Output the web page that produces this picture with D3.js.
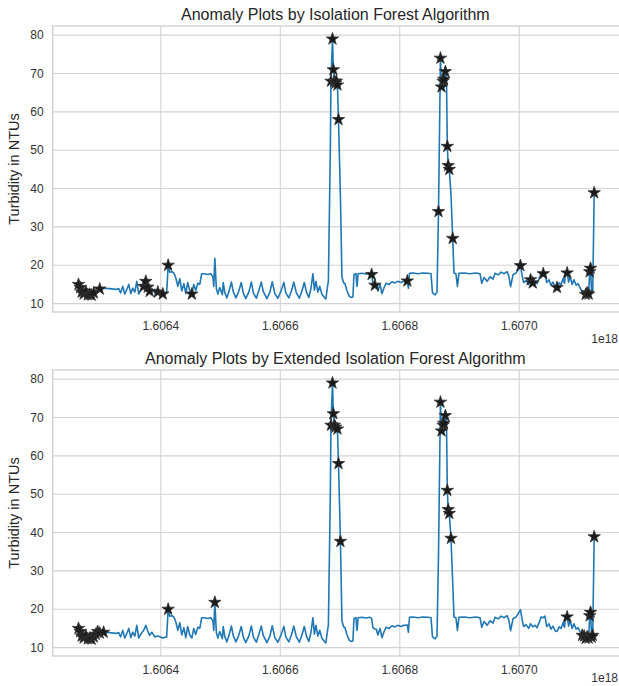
<!DOCTYPE html>
<html>
<head>
<meta charset="utf-8">
<script src="https://cdn.jsdelivr.net/npm/d3@7"></script>
<style>
  body { margin: 0; background: #fff; }
  svg { display: block; font-family: "Liberation Sans", Arial, sans-serif; }
</style>
</head>
<body>
<div id="chart"></div>
<script>
// readings: hours since first sample, turbidity in NTU
var hours = [0, 0.8, 1.5, 2.4, 3.4, 4.3, 5.2, 6.1, 7.1, 8.0, 8.9, 9.9, 11.7, 14.5, 17.3, 18.7, 19.6, 20.6, 21.5, 22.4,
  23.4, 24.3, 25.2, 26.2, 27.1, 28.0, 28.9, 30.3, 31.3, 32.2, 33.1, 34.1, 35.5, 36.9, 39.2, 41.0, 41.7, 42.4, 43.4, 44.3,
  45.2, 46.2, 47.1, 48.0, 49.0, 49.9, 50.8, 51.8, 52.7, 53.6, 54.5, 55.5, 56.4, 57.3, 58.7, 60.1, 61.5, 62.5, 62.9, 63.4,
  64.1, 64.8, 65.7, 66.9, 67.3, 68.0, 69.0, 69.9, 71.1, 72.0, 73.2, 74.5, 75.7, 76.6, 77.8, 79.2, 80.4, 81.3, 82.7, 83.9,
  85.0, 85.9, 87.6, 89.0, 90.1, 91.3, 92.7, 94.1, 95.5, 96.4, 97.8, 99.0, 100.1, 101.3, 102.7, 103.9, 105.0, 106.0, 107.1, 108.1,
  109.0, 109.7, 110.4, 111.3, 112.2, 113.2, 114.1, 115.0, 115.7, 116.2, 117.1, 117.4, 118.1, 118.5, 119.0, 119.5, 119.9, 120.4, 120.9, 121.8,
  122.5, 123.2, 123.9, 124.8, 125.8, 126.7, 127.6, 128.1, 129.0, 129.5, 130.0, 131.8, 133.7, 135.5, 136.3, 136.9, 137.8, 138.5, 139.2, 140.2,
  141.1, 142.1, 143.0, 144.4, 145.8, 147.1, 148.5, 149.9, 151.3, 152.9, 153.4, 153.9, 155.5, 157.8, 160.2, 162.5, 163.9, 164.6, 165.8, 166.7,
  167.4, 168.3, 168.8, 169.5, 169.9, 170.6, 171.1, 171.5, 171.9, 172.4, 173.2, 174.0, 174.6, 175.5, 176.2, 176.9, 179.3, 182.0, 184.8, 186.7,
  187.5, 188.6, 190.0, 191.4, 192.8, 193.7, 195.1, 196.5, 197.9, 199.3, 200.2, 200.9, 202.1, 203.5, 204.6, 205.5, 206.3, 207.0, 208.1, 209.3,
  210.2, 211.2, 212.3, 213.2, 214.2, 215.1, 216.1, 216.9, 217.7, 218.8, 219.7, 220.6, 221.6, 222.5, 223.5, 224.4, 225.3, 226.0, 226.5, 227.2,
  227.9, 228.6, 229.5, 230.4, 231.4, 232.3, 233.3, 234.2, 235.1, 235.8, 236.5, 237.2, 237.7, 238.1, 238.6, 239.1, 239.8];

var turbidity = [15.0, 14.2, 13.0, 12.5, 13.2, 12.3, 12.4, 12.2, 12.8, 13.5, 14.2, 13.8, 14.0, 13.9, 13.7, 13.9, 12.8, 14.5, 12.5, 13.6,
  15.0, 12.6, 14.0, 13.0, 15.8, 12.5, 13.5, 14.5, 15.8, 14.3, 13.2, 14.0, 12.8, 13.0, 12.5, 12.8, 20.0, 18.2, 18.3, 18.0,
  16.8, 14.5, 16.5, 13.3, 15.2, 12.6, 15.5, 13.2, 12.5, 15.0, 13.4, 15.3, 15.0, 17.8, 17.8, 17.6, 17.8, 17.0, 14.5, 21.8,
  14.0, 12.5, 14.2, 12.3, 15.5, 13.0, 11.5, 13.0, 15.6, 13.0, 11.5, 13.2, 15.5, 12.8, 11.3, 13.0, 15.6, 12.8, 11.4, 13.5,
  15.6, 13.2, 11.3, 13.0, 15.7, 12.6, 11.4, 13.2, 15.5, 12.8, 11.5, 13.3, 15.6, 12.8, 11.4, 13.3, 15.5, 13.0, 11.6, 14.0,
  17.8, 13.5, 15.8, 13.0, 14.5, 12.4, 11.8, 11.2, 14.0, 16.0, 50.0, 68.0, 79.0, 71.0, 68.0, 67.5, 68.0, 67.0, 58.0, 37.7,
  17.0, 15.5, 15.2, 13.5, 12.0, 11.6, 11.7, 17.6, 17.8, 14.5, 17.8, 17.9, 17.7, 17.9, 17.6, 15.2, 14.8, 14.8, 13.3, 15.0,
  12.6, 14.2, 15.3, 15.0, 15.7, 15.4, 15.8, 15.5, 15.8, 15.9, 14.0, 17.9, 18.0, 17.8, 18.0, 17.9, 17.8, 12.8, 12.3, 13.0,
  34.0, 74.0, 66.5, 68.0, 68.5, 70.5, 69.0, 51.0, 46.0, 45.0, 38.5, 27.0, 18.0, 17.8, 14.5, 17.9, 18.0, 17.8, 18.0, 17.8,
  15.3, 16.8, 15.8, 17.0, 16.4, 17.9, 17.5, 18.2, 17.8, 18.3, 17.0, 14.4, 17.6, 18.0, 19.0, 19.9, 17.2, 15.5, 16.0, 15.0,
  16.2, 15.4, 15.8, 15.2, 16.5, 18.0, 17.8, 18.2, 15.5, 16.2, 14.8, 15.6, 14.4, 14.2, 15.4, 15.0, 16.5, 15.3, 18.2, 18.0,
  15.6, 17.2, 15.0, 16.2, 14.8, 15.2, 14.0, 13.2, 13.0, 12.4, 12.8, 12.5, 18.3, 19.2, 12.7, 13.2, 38.9];

var startTime = 1.6062622e18; // ns
var nsPerHour = 3.6e12;

var ifAnomalyHours = [0, 0.8, 1.5, 2.4, 3.4, 4.3, 5.2, 6.1, 7.1, 9.9, 30.3, 31.3, 32.2, 33.1, 36.9, 39.2, 41.7, 52.7,
  117.4, 118.1, 118.5, 119.0, 119.5, 119.9, 120.4, 120.9, 136.3, 137.8, 152.9, 167.4, 168.3, 168.8, 169.5, 169.9, 170.6,
  171.5, 171.9, 172.4, 174.0, 205.5, 210.2, 211.2, 216.1, 222.5, 227.2, 235.8, 236.5, 237.2, 237.7, 238.1, 239.8];

var eifAnomalyHours = [0, 0.8, 1.5, 2.4, 3.4, 4.3, 5.2, 6.1, 7.1, 8.0, 8.9, 9.9, 11.7, 41.7, 63.4,
  117.4, 118.1, 118.5, 119.0, 119.5, 120.4, 120.9, 121.8, 168.3, 168.8, 169.5, 169.9, 170.6, 171.5, 171.9, 172.4, 173.2,
  227.2, 234.2, 235.1, 235.8, 236.5, 237.2, 237.7, 238.1, 238.6, 239.1, 239.8];

var xTicks = [1.6064, 1.6066, 1.6068, 1.6070]; // x 1e18
var yTicks = [10, 20, 30, 40, 50, 60, 70, 80];

var titles = ["Anomaly Plots by Isolation Forest Algorithm", "Anomaly Plots by Extended Isolation Forest Algorithm"];

var width = 619, height = 686;
var left = 52.7, right = 620;

var data = hours.map(function(h, i) { return { t: startTime + h * nsPerHour, h: h, v: turbidity[i] }; });
var byHour = new Map(data.map(function(d) { return [d.h, d]; }));

var tExt = d3.extent(data, function(d) { return d.t; });
var tPad = (tExt[1] - tExt[0]) * 0.05;
var vExt = d3.extent(data, function(d) { return d.v; });
var vPad = (vExt[1] - vExt[0]) * 0.05;

var x = d3.scaleLinear().domain([tExt[0] - tPad, tExt[1] + tPad]).range([left, right]);

var svg = d3.select("#chart").append("svg")
  .attr("width", width)
  .attr("height", height);

var panels = [
  { title: titles[0], anomalies: ifAnomalyHours, top: 26, bottom: 312 },
  { title: titles[1], anomalies: eifAnomalyHours, top: 370, bottom: 656 }
];

panels.forEach(function(p) {
  var y = d3.scaleLinear().domain([vExt[0] - vPad, vExt[1] + vPad]).range([p.bottom, p.top]);
  var g = svg.append("g");

  // grid
  g.selectAll(".hgrid").data(yTicks).enter().append("line")
    .attr("x1", left).attr("x2", right)
    .attr("y1", function(d) { return y(d); }).attr("y2", function(d) { return y(d); })
    .attr("stroke", "#d3d3d3").attr("stroke-width", 1.1);
  g.selectAll(".vgrid").data(xTicks).enter().append("line")
    .attr("x1", function(d) { return x(d * 1e18); }).attr("x2", function(d) { return x(d * 1e18); })
    .attr("y1", p.top).attr("y2", p.bottom)
    .attr("stroke", "#d3d3d3").attr("stroke-width", 1.1);

  // frame
  g.append("rect")
    .attr("x", left).attr("y", p.top)
    .attr("width", right - left).attr("height", p.bottom - p.top)
    .attr("fill", "none").attr("stroke", "#cccccc").attr("stroke-width", 1.25);

  // tick labels
  g.selectAll(".ylab").data(yTicks).enter().append("text")
    .attr("x", left - 9).attr("y", function(d) { return y(d) + 4; })
    .attr("text-anchor", "end")
    .attr("font-size", "12px").attr("fill", "#333")
    .text(function(d) { return d; });
  g.selectAll(".xlab").data(xTicks).enter().append("text")
    .attr("x", function(d) { return x(d * 1e18); }).attr("y", p.bottom + 18)
    .attr("text-anchor", "middle")
    .attr("font-size", "12px").attr("fill", "#333")
    .text(function(d) { return d.toFixed(4); });
  g.append("text")
    .attr("x", width - 1).attr("y", Math.min(p.bottom + 31, height - 4))
    .attr("text-anchor", "end")
    .attr("font-size", "12px").attr("fill", "#333")
    .text("1e18");

  // titles
  g.append("text")
    .attr("x", (left + right) / 2 - 1).attr("y", p.top - 6)
    .attr("text-anchor", "middle")
    .attr("font-size", "16px").attr("fill", "#262626")
    .text(p.title);
  g.append("text")
    .attr("transform", "translate(19," + (p.top + p.bottom) / 2 + ")rotate(-90)")
    .attr("text-anchor", "middle")
    .attr("font-size", "14.5px").attr("fill", "#262626")
    .text("Turbidity in NTUs");

  // series
  var line = d3.line()
    .x(function(d) { return x(d.t); })
    .y(function(d) { return y(d.v); });
  g.append("path")
    .datum(data)
    .attr("d", line)
    .attr("fill", "none")
    .attr("stroke", "#1f77b4")
    .attr("stroke-width", 1.6)
    .attr("stroke-linejoin", "round");

  // anomalies
  var star = d3.symbol().type(d3.symbolStar).size(48);
  g.selectAll(".anom").data(p.anomalies.map(function(h) { return byHour.get(h); })).enter().append("path")
    .attr("transform", function(d) { return "translate(" + x(d.t) + "," + y(d.v) + ")"; })
    .attr("d", star)
    .attr("fill", "#1a1a1a")
    .attr("stroke", "#333")
    .attr("stroke-width", 0.8);
});
</script>
</body>
</html>
